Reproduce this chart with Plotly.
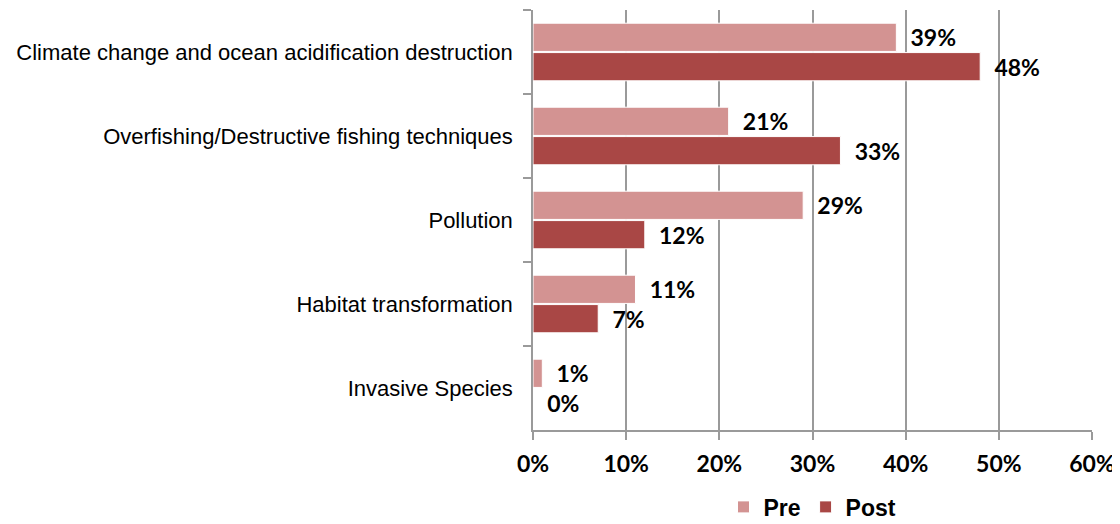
import plotly.graph_objects as go

categories = [
    "Climate change and ocean acidification destruction",
    "Overfishing/Destructive fishing techniques",
    "Pollution",
    "Habitat transformation",
    "Invasive Species",
]
pre = [0.39, 0.21, 0.29, 0.11, 0.01]
post = [0.48, 0.33, 0.12, 0.07, 0.00]
x_ticks = [0, 0.1, 0.2, 0.3, 0.4, 0.5, 0.6]

bold_font = "Lato, 'Open Sans', sans-serif"
nbsp = "\u00a0\u00a0"

fig = go.Figure()
for name, vals, color in [("Pre", pre, "#D39392"), ("Post", post, "#A94745")]:
    fig.add_trace(
        go.Bar(
            y=categories,
            x=vals,
            name=name,
            orientation="h",
            marker=dict(color=color, line=dict(color="white", width=1)),
            text=[f"{nbsp}{v:.0%}" for v in vals],
            textposition="outside",
            textfont=dict(family=bold_font, size=23, color="black", weight="bold"),
            cliponaxis=False,
        )
    )

# page body has an 8px margin, so the figure is drawn 8px smaller
fig.update_layout(
    barmode="group",
    bargap=0.3,
    bargroupgap=0.04,
    width=1112,
    height=516,
    margin=dict(l=525, r=28, t=2, b=94, autoexpand=False),
    plot_bgcolor="white",
    paper_bgcolor="white",
    legend=dict(
        orientation="h",
        x=0.5,
        xanchor="center",
        y=-0.132,
        yanchor="top",
        font=dict(family="'Liberation Sans Narrow', 'Liberation Sans', Arial", size=23,
                  color="black", weight="bold"),
        itemwidth=30,
    ),
    showlegend=True,
)
fig.update_xaxes(
    range=[0, 0.6],
    tickvals=x_ticks,
    tickformat=".0%",
    showgrid=True,
    gridcolor="#9a9a9a",
    gridwidth=1.5,
    zeroline=False,
    showline=True,
    linecolor="#9a9a9a",
    linewidth=1.5,
    ticks="outside",
    ticklen=8,
    tickcolor="#9a9a9a",
    tickwidth=1.5,
    ticklabelstandoff=5,
    tickfont=dict(family=bold_font, size=23, color="black", weight="bold"),
)
fig.update_yaxes(
    autorange="reversed",
    showline=True,
    linecolor="#9a9a9a",
    linewidth=1.5,
    ticks="outside",
    tickson="boundaries",
    ticklen=8,
    tickcolor="#9a9a9a",
    tickwidth=1.5,
    ticklabelstandoff=14,
    showgrid=False,
    tickfont=dict(family="'Liberation Sans', Arial", size=22, color="black"),
)

fig.write_html("out.html")
